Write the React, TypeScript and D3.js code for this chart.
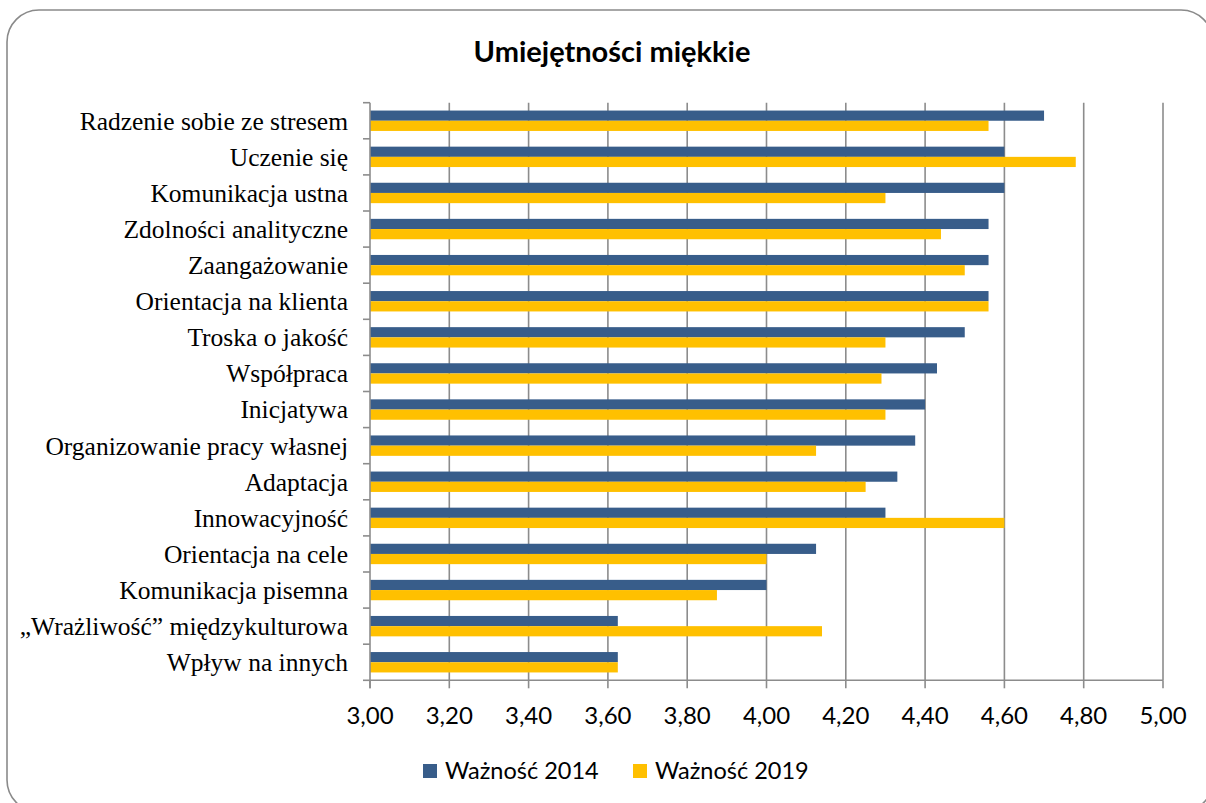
import React from "react";
import * as d3 from "d3";

const categories = [
  "Radzenie sobie ze stresem",
  "Uczenie się",
  "Komunikacja ustna",
  "Zdolności analityczne",
  "Zaangażowanie",
  "Orientacja na klienta",
  "Troska o jakość",
  "Współpraca",
  "Inicjatywa",
  "Organizowanie pracy własnej",
  "Adaptacja",
  "Innowacyjność",
  "Orientacja na cele",
  "Komunikacja pisemna",
  "„Wrażliwość” międzykulturowa",
  "Wpływ na innych",
];
const values2014 = [4.7, 4.6, 4.6, 4.56, 4.56, 4.56, 4.5, 4.43, 4.4, 4.375, 4.33, 4.3, 4.125, 4.0, 3.625, 3.625];
const values2019 = [4.56, 4.78, 4.3, 4.44, 4.5, 4.56, 4.3, 4.29, 4.3, 4.125, 4.25, 4.6, 4.0, 3.875, 4.14, 3.625];
const seriesNames = ["Ważność 2014", "Ważność 2019"];
const seriesColors = ["#385D8A", "#FFC000"];
const xTicks = [3.0, 3.2, 3.4, 3.6, 3.8, 4.0, 4.2, 4.4, 4.6, 4.8, 5.0];

const W = 1206;
const H = 803;
const left = 370;
const right = 1163;
const top = 102.7;
const bottom = 680.3;

export default function App() {
  const x = d3.scaleLinear().domain([3, 5]).range([left, right]);
  const y = d3.scaleBand<string>().domain(categories).range([top, bottom]).padding(0);
  const inner = d3
    .scaleBand<string>()
    .domain(seriesNames)
    .range([0, y.bandwidth()])
    .paddingInner(0)
    .paddingOuter(0.77);
  const fmt = (v: number) => v.toFixed(2).replace(".", ",");
  const seriesValues = [values2014, values2019];
  const gridColor = "#8C8C8C";
  const boundaries = categories.map((c) => y(c) as number).concat([bottom]);

  return (
    <svg
      width={W}
      height={H}
      style={{ position: "absolute", left: 0, top: 0, background: "#fff" }}
    >
      <rect x={7} y={10} width={1206} height={802} rx={32} ry={32} fill="#fff" stroke="#8A8A8A" strokeWidth={1.6} />
      <text
        x={612}
        y={62}
        textAnchor="middle"
        fontFamily="Lato, 'Noto Sans', sans-serif"
        fontWeight="bold"
        fontSize={29}
        fill="#000"
      >
        Umiejętności miękkie
      </text>
      {/* gridlines */}
      {xTicks.slice(1).map((t) => (
        <line key={"g" + t} x1={x(t)} x2={x(t)} y1={top} y2={bottom} stroke={gridColor} strokeWidth={1.6} />
      ))}
      {/* bars */}
      {categories.map((c, i) => (
        <g key={c} transform={`translate(0,${y(c)})`}>
          {seriesNames.map((s, k) => (
            <rect
              key={s}
              x={x(3)}
              y={inner(s) as number}
              width={x(seriesValues[k][i]) - x(3)}
              height={inner.bandwidth()}
              fill={seriesColors[k]}
            />
          ))}
        </g>
      ))}
      {/* axes */}
      <line x1={left} x2={left} y1={top} y2={bottom + 8} stroke={gridColor} strokeWidth={1.6} />
      <line x1={left} x2={right} y1={bottom} y2={bottom} stroke={gridColor} strokeWidth={1.6} />
      {boundaries.map((b, i) => (
        <line key={"yt" + i} x1={left - 7} x2={left} y1={b} y2={b} stroke={gridColor} strokeWidth={1.6} />
      ))}
      {xTicks.map((t) => (
        <g key={"xt" + t}>
          <line x1={x(t)} x2={x(t)} y1={bottom} y2={bottom + 8} stroke={gridColor} strokeWidth={1.6} />
          <text
            x={x(t)}
            y={724}
            textAnchor="middle"
            fontFamily="Lato, 'Noto Sans', sans-serif"
            fontSize={24}
            fill="#000"
          >
            {fmt(t)}
          </text>
        </g>
      ))}
      {categories.map((c) => (
        <text
          key={"l" + c}
          x={348}
          y={(y(c) as number) + y.bandwidth() / 2}
          dy="0.35em"
          textAnchor="end"
          fontFamily="'Liberation Serif', 'DejaVu Serif', serif"
          fontSize={25.5}
          fill="#000"
        >
          {c}
        </text>
      ))}
      {/* legend */}
      {seriesNames.map((s, k) => (
        <g key={"lg" + s} transform={`translate(${k === 0 ? 423 : 633},0)`}>
          <rect x={0} y={764} width={14} height={14} fill={seriesColors[k]} />
          <text x={22} y={778.5} fontFamily="Lato, 'Noto Sans', sans-serif" fontSize={23.5} fill="#000">
            {s}
          </text>
        </g>
      ))}
    </svg>
  );
}
